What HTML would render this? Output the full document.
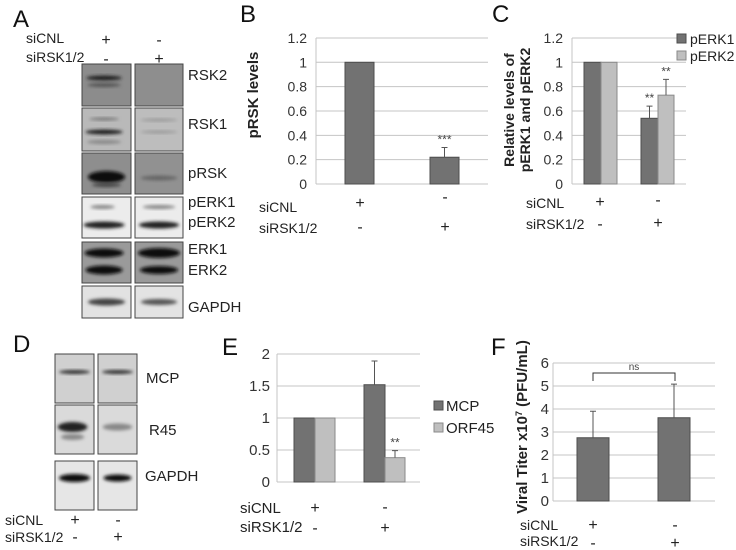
<!DOCTYPE html>
<html><head><meta charset="utf-8"><style>
body{margin:0;background:#fff}
svg{display:block;font-family:"Liberation Sans",Arial,sans-serif}
</style></head><body>
<svg id="fig" width="736" height="550" viewBox="0 0 736 550" xmlns="http://www.w3.org/2000/svg">
<defs>
<filter id="blur" x="-20%" y="-50%" width="140%" height="200%"><feGaussianBlur stdDeviation="1.6"/></filter>
</defs>
<g id="blots"></g>
<g id="charts"></g>
</svg>
<script>
// ---------- DATA ----------
const bCats = ["siCNL+","siRSK1/2+"];
const bVals = [1, 0.22];
const bErr = [0, 0.30];
const bTicks = ["0","0.2","0.4","0.6","0.8","1","1.2"];
const cPERK1 = [1, 0.54];
const cPERK2 = [1, 0.73];
const cErr1 = [0, 0.64];
const cErr2 = [0, 0.86];
const eMCP = [1, 1.52];
const eORF45 = [1, 0.38];
const eErrMCP = [0, 1.89];
const eErrORF = [0, 0.49];
const eTicks = ["0","0.5","1","1.5","2"];
const fVals = [2.75, 3.62];
const fErr = [3.9, 5.08];
const fTicks = ["0","1","2","3","4","5","6"];

const NS="http://www.w3.org/2000/svg";
const svg=document.getElementById('fig');
const G=document.getElementById('charts');
const BL=document.getElementById('blots');
function el(tag,attrs,parent,text){const e=document.createElementNS(NS,tag);for(const k in attrs)e.setAttribute(k,attrs[k]);if(text!==undefined)e.textContent=text;(parent||G).appendChild(e);return e;}

const DARK="#727272",DARKS="#4d4d4d",LIGHT="#bfbfbf",LIGHTS="#8a8a8a",GRID="#c4c4c4";

function axis(x0,x1,yScale,ticks,vals,labelX,fs){
  vals.forEach((v,i)=>{
    const y=yScale(v);
    const g=el('line',{x1:x0,x2:x1,y1:y,y2:y,stroke:GRID,'stroke-width':1});
    
    const t=el('text',{x:labelX,y:y+5,'text-anchor':'end','font-size':fs||14,fill:'#333'},G,ticks[i]);
    
  });
  const a=el('line',{x1:x0,x2:x0,y1:yScale(vals[vals.length-1]),y2:yScale(0),stroke:GRID,'stroke-width':1});
  
}
function bar(x,w,yScale,v,fill,stroke,name){
  const r=el('rect',{x:x,y:yScale(v),width:w,height:yScale(0)-yScale(v),fill:fill,stroke:stroke,'stroke-width':1});
  
}
function err(cx,yScale,v,e){
  if(!e)return;
  const l=el('path',{d:`M${cx} ${yScale(v)}V${yScale(e)}M${cx-3} ${yScale(e)}H${cx+3}`,stroke:'#555','stroke-width':1,fill:'none'});
  
}
function txt(x,y,s,fs,opts){
  const t=el('text',Object.assign({x:x,y:y,'font-size':fs,fill:'#222'},opts||{}),G,s);
  return t;
}
function cond(x,y1,y2,s1,s2,xs,ys1,ys2,fs){
  txt(x,y1,'siCNL',fs||14);txt(x,y2,'siRSK1/2',fs||14);
  s1.forEach((s,i)=>txt(xs[i],ys1[i],s,16,{'text-anchor':'middle'}));
  s2.forEach((s,i)=>txt(xs[i],ys2[i],s,16,{'text-anchor':'middle'}));
}
function panelLetter(x,y,s){const t=el('text',{x:x,y:y,'font-size':24,fill:'#111'},G,s);}

// ---------- Panel B ----------
const yB=v=>184-v*121.7;
axis(316,488,yB,bTicks,[0,0.2,0.4,0.6,0.8,1,1.2],307);
const bX=[345,430];
bVals.forEach((v,i)=>{bar(bX[i],29,yB,v,DARK,DARKS,'bar-b-'+i);err(bX[i]+14.5,yB,v,bErr[i]);});
txt(bX[1]+14.5,yB(bErr[1])-4,'***',12,{'text-anchor':'middle',fill:'#444'});
txt(258,95,'pRSK levels',15,{'font-weight':'bold','text-anchor':'middle',transform:'rotate(-90 258 95)'}).setAttribute('dy','0');
panelLetter(240,22,'B');
cond(259,212,233,['+','-'],['-','+'],[360,445],[208,202],[232,232]);

// ---------- Panel C ----------
const yC=yB;
axis(572,686,yC,bTicks,[0,0.2,0.4,0.6,0.8,1,1.2],563);
const cX=[584,641];
[0,1].forEach(i=>{
  bar(cX[i],17,yC,cPERK1[i],DARK,DARKS,'bar-perk1-'+i);
  bar(cX[i]+17,16,yC,cPERK2[i],LIGHT,LIGHTS,'bar-perk2-'+i);
  err(cX[i]+8.5,yC,cPERK1[i],cErr1[i]);err(cX[i]+25,yC,cPERK2[i],cErr2[i]);
});
txt(cX[1]+8.5,yC(cErr1[1])-4,'**',12,{'text-anchor':'middle',fill:'#444'});
txt(cX[1]+25,yC(cErr2[1])-4,'**',12,{'text-anchor':'middle',fill:'#444'});
txt(514,110,'Relative levels of',14,{'font-weight':'bold','text-anchor':'middle',transform:'rotate(-90 514 110)'});
txt(530,110,'pERK1 and pERK2',14,{'font-weight':'bold','text-anchor':'middle',transform:'rotate(-90 530 110)'});
el('rect',{x:677,y:34,width:9,height:9,fill:DARK,stroke:DARKS});
el('rect',{x:677,y:51,width:9,height:9,fill:LIGHT,stroke:LIGHTS});
txt(690,44,'pERK1',14);txt(690,61,'pERK2',14);
panelLetter(492,22,'C');
cond(526,208,229,['+','-'],['-','+'],[600,658],[207,205],[229,228]);

// ---------- Panel E ----------
const yE=v=>482-v*64;
axis(277,420,yE,eTicks,[0,0.5,1,1.5,2],270,15);
const eX=[294,364];
[0,1].forEach(i=>{
  bar(eX[i],21,yE,eMCP[i],DARK,DARKS,'bar-mcp-'+i);
  bar(eX[i]+21,20,yE,eORF45[i],LIGHT,LIGHTS,'bar-orf45-'+i);
  err(eX[i]+10.5,yE,eMCP[i],eErrMCP[i]);err(eX[i]+31,yE,eORF45[i],eErrORF[i]);
});
txt(eX[1]+31,yE(eErrORF[1])-4,'**',12,{'text-anchor':'middle',fill:'#444'});
el('rect',{x:434,y:401,width:9,height:9,fill:DARK,stroke:DARKS});
el('rect',{x:434,y:423,width:9,height:9,fill:LIGHT,stroke:LIGHTS});
txt(446,411,'MCP',15);txt(446,433,'ORF45',15);
panelLetter(222,355,'E');
cond(240,513,532,['+','-'],['-','+'],[315,385],[513,512],[533,533],15);

// ---------- Panel F ----------
const yF=v=>501-v*23;
axis(553,715,yF,fTicks,[0,1,2,3,4,5,6],549,15);
const fX=[577,658];
fVals.forEach((v,i)=>{bar(fX[i],32,yF,v,DARK,DARKS,'bar-f-'+i);err(fX[i]+16,yF,v,fErr[i]);});
el('path',{d:'M593 381V373H675V381',stroke:'#333',fill:'none','stroke-width':1});
txt(634,370,'ns',10,{'text-anchor':'middle',fill:'#444'});
const ft=txt(527,427,'',15,{'font-weight':'bold','text-anchor':'middle',transform:'rotate(-90 527 427)'});
ft.innerHTML='Viral Titer x10<tspan baseline-shift="super" font-size="9">7</tspan> (PFU/mL)';
panelLetter(491,355,'F');
cond(520,530,546,['+','-'],['-','+'],[593,675],[530,530],[548,548]);

// ---------- Panel A blots ----------
panelLetter(13,27,'A');
txt(26,43,'siCNL',14);txt(26,62,'siRSK1/2',14);
txt(106,45,'+',16,{'text-anchor':'middle'});txt(159,45,'-',16,{'text-anchor':'middle'});
txt(106,64,'-',16,{'text-anchor':'middle'});txt(159,64,'+',16,{'text-anchor':'middle'});
function blot(x,y,w,h,bg,bands,name){
  const g=el('g',{},BL);
  
  el('rect',{x:x,y:y,width:w,height:h,fill:bg,stroke:'#444','stroke-width':1},g);
  bands.forEach(b=>el('ellipse',{cx:x+w*b[0],cy:y+b[1],rx:w*b[2],ry:b[3],fill:b[4],opacity:b[5]||1,filter:'url(#blur)'},g));
}
const rows=[
 ['RSK2',64,42,'#8c8c8c','#8e8e8e',[[0.45,14,0.36,2.5,'#222'],[0.45,21,0.34,2,'#555']],[]],
 ['RSK1',108,43,'#b9b9b9','#bdbdbd',[[0.45,11,0.3,1.5,'#777'],[0.45,24,0.38,2.5,'#222'],[0.45,34,0.35,2,'#888']],[[0.5,12,0.38,1.5,'#999'],[0.5,24,0.38,1.5,'#999']]],
 ['pRSK',153,41,'#8e8e8e','#919191',[[0.5,24,0.38,6,'#111'],[0.5,32,0.3,2,'#444']],[[0.5,25,0.38,2.5,'#666']]],
 ['pERK',197,41,'#ececec','#ececec',[[0.42,10,0.25,2,'#888'],[0.45,28,0.42,3.5,'#222']],[[0.5,10,0.34,2,'#888'],[0.5,28,0.42,3.5,'#222']]],
 ['ERK',242,41,'#9a9a9a','#9a9a9a',[[0.45,11,0.4,4.5,'#111'],[0.45,28,0.38,4.5,'#111']],[[0.5,11,0.44,5,'#0a0a0a'],[0.5,28,0.4,4,'#111']]],
 ['GAPDH',286,32,'#e2e2e2','#e3e3e3',[[0.5,16,0.38,3.5,'#444']],[[0.5,16,0.38,3,'#555']]]
];
rows.forEach(r=>{
  blot(82,r[1],49,r[2],r[3],r[5],'blot-'+r[0].toLowerCase()+'-lane1');
  blot(135,r[1],48,r[2],r[4],r[6],'blot-'+r[0].toLowerCase()+'-lane2');
});
txt(188,80,'RSK2',15);txt(188,129,'RSK1',15);txt(188,178,'pRSK',15);
txt(188,207,'pERK1',15);txt(188,227,'pERK2',15);
txt(188,254,'ERK1',15);txt(188,275,'ERK2',15);txt(188,312,'GAPDH',15);

// ---------- Panel D blots ----------
panelLetter(13,352,'D');
const drows=[
 ['MCP',354,49,'#d0d0d0',[[0.5,18,0.4,2,'#333']]],
 ['R45',405,49,'#dadada',[[0.45,22,0.38,5,'#222'],[0.45,32,0.3,3,'#888']]],
 ['GAPDH',461,49,'#e6e6e6',[[0.5,17,0.4,4,'#111']]]
];
const dBands2=[[[0.5,18,0.4,2,'#333']],[[0.5,22,0.38,3.5,'#888']],[[0.5,17,0.36,3.5,'#111']]];
drows.forEach((r,i)=>{
  blot(55,r[1],39,r[2],r[3],r[4],'blot-d-'+r[0].toLowerCase()+'-lane1');
  blot(98,r[1],39,r[2],r[3],dBands2[i],'blot-d-'+r[0].toLowerCase()+'-lane2');
});
txt(146,383,'MCP',15);txt(149,435,'R45',15);txt(145,481,'GAPDH',15);
txt(5,525,'siCNL',14);txt(5,542,'siRSK1/2',14);
txt(75,525,'+',16,{'text-anchor':'middle'});txt(118,525,'-',16,{'text-anchor':'middle'});
txt(75,542,'-',16,{'text-anchor':'middle'});txt(118,542,'+',16,{'text-anchor':'middle'});
</script>
</body></html>
